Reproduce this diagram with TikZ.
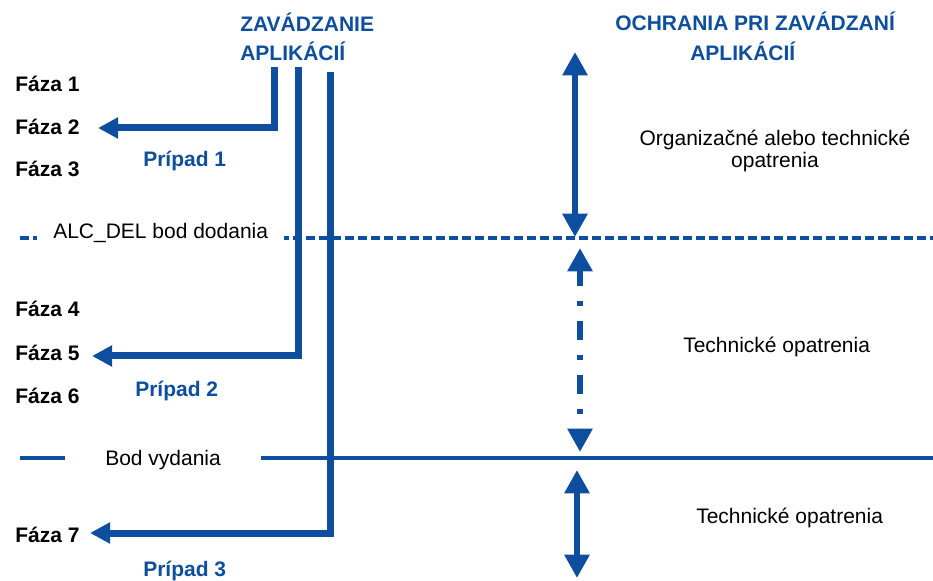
\documentclass[tikz,border=0pt]{standalone}
\usepackage{fontspec}
\setmainfont{Liberation Sans}
\usetikzlibrary{arrows.meta}
\definecolor{docblue}{RGB}{14,78,158}
\newcommand{\lblfont}{\fontsize{15.75pt}{18pt}\selectfont}
\begin{document}
\begin{tikzpicture}[x=0.75pt,y=-0.75pt,
  every node/.style={inner sep=0pt, font=\lblfont},
  phase/.style={anchor=base west, font=\lblfont\bfseries},
  heading/.style={anchor=base west, text=docblue, font=\lblfont\bfseries},
  note/.style={anchor=base west},
  notec/.style={anchor=base},
  pathline/.style={draw=docblue, line width=5.25pt, line join=miter,
    -{Triangle[length=15pt,width=15pt]}},
  span/.style={draw=docblue, line width=4.5pt,
    {Triangle[length=17.5pt,width=18pt]}-{Triangle[length=17.5pt,width=18pt]}},
  dashdot/.style={dash pattern=on 14.25pt off 11.25pt on 3.5pt off 11.5pt, dash phase=2.25pt},
  bound/.style={draw=docblue, line width=2.5pt},
  gap/.style={fill=white, anchor=base west, inner ysep=7pt}
]
\useasboundingbox (0,0) rectangle (933,581);

% boundary lines
\coordinate (dl) at (20,238);
\coordinate (dr) at (933,238);
\coordinate (sl) at (20,458);
\coordinate (sr) at (933,458);
\draw[bound, dash pattern=on 6.75pt off 3pt] (dl) -- (dr);
\draw[bound] (sl) -- (sr);
\node[gap, inner xsep=12pt] (alc) at (37,239) {ALC\_DEL bod dodania};
\node[gap, inner xsep=30pt] (bod) at (65,465) {Bod vydania};

% headings
\node[heading] (zav1) at (240,32) {ZAVÁDZANIE};
\node[heading] (zav2) at (240,61) {APLIKÁCIÍ};
\node[heading] (och1) at (615,31) {OCHRANIA PRI ZAVÁDZANÍ};
\node[heading] (och2) at (690,61) {APLIKÁCIÍ};

% phases
\node[phase] (f1) at (15,92) {Fáza 1};
\node[phase] (f2) at (15,135) {Fáza 2};
\node[phase] (f3) at (15,177) {Fáza 3};
\node[phase] (f4) at (15,317) {Fáza 4};
\node[phase] (f5) at (15,360) {Fáza 5};
\node[phase] (f6) at (15,403) {Fáza 6};
\node[phase] (f7) at (15,542) {Fáza 7};

% cases
\node[heading] (p1) at (143,167) {Prípad 1};
\node[heading] (p2) at (135,397) {Prípad 2};
\node[heading] (p3) at (143,576) {Prípad 3};

\coordinate (t1) at (274,67);
\coordinate (t2) at (298,67);
\coordinate (t3) at (330,72);
\coordinate (e1) at (98,128);
\coordinate (e2) at (92,356);
\coordinate (e3) at (90,533);
\draw[pathline] (t1) |- (e1);
\draw[pathline] (t2) |- (e2);
\draw[pathline] (t3) |- (e3);

% protection spans
\coordinate (a1) at (575,52);
\coordinate (b1) at (575,237);
\coordinate (a2) at (580,248);
\coordinate (b2) at (580,452);
\coordinate (a3) at (577,470);
\coordinate (b3) at (577,578);
\draw[span] (a1) -- (b1);
\draw[span, dashdot] (a2) -- (b2);
\draw[span] (a3) -- (b3);

% measure descriptions
\node[notec] (m1) at (775,146) {Organizačné alebo technické};
\node[notec] (m1b) at (775,168) {opatrenia};
\node[note] (m2) at (683,353) {Technické opatrenia};
\node[note] (m3) at (696,523) {Technické opatrenia};
\end{tikzpicture}
\end{document}
